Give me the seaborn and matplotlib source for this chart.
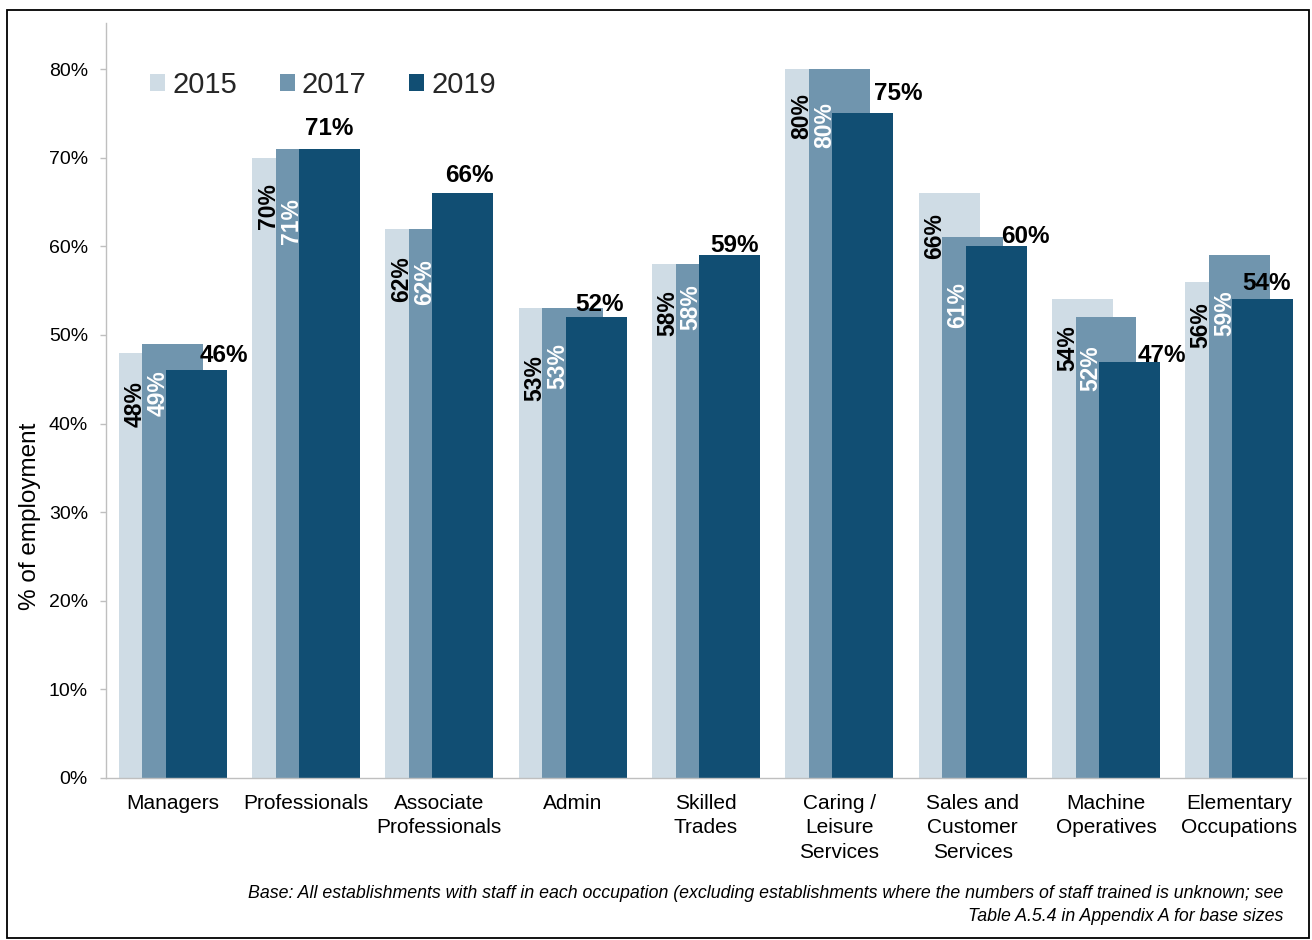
import matplotlib
matplotlib.use("Agg")
import matplotlib.pyplot as plt
import matplotlib.patches as mpatches
import numpy as np
import pandas as pd
import seaborn as sns

# ---- data ----
categories = ["Managers", "Professionals", "Associate\nProfessionals", "Admin",
              "Skilled\nTrades", "Caring /\nLeisure\nServices",
              "Sales and\nCustomer\nServices", "Machine\nOperatives",
              "Elementary\nOccupations"]
years = ["2015", "2017", "2019"]
v2015 = [48, 70, 62, 53, 58, 80, 66, 54, 56]
v2017 = [49, 71, 62, 53, 58, 80, 61, 52, 59]
v2019 = [46, 71, 66, 52, 59, 75, 60, 47, 54]
yticks = [0, 10, 20, 30, 40, 50, 60, 70, 80]
footnote = ("Base: All establishments with staff in each occupation (excluding establishments where the numbers of staff trained is unknown; see\n"
            "Table A.5.4 in Appendix A for base sizes")

# ---- style / layout ----
colors = {"2015": "#cfdce5", "2017": "#7095ae", "2019": "#114e73"}
bar_offsets = {"2015": -0.176, "2017": 0.0, "2019": 0.176}
bar_width = 0.457
PX = 72.0 / 100.0  # points per pixel
# label placement (pixels)
gap2015 = [28, 25, 28, 47, 26, 24, 20, 26, 20]
gap2017 = [26, 49, 31, 35, 20, 33, 45, 28, 35]
dx2019 = [28, 0, 7, 3, 5, 35, 29, 32, 4]
dy2019 = [8, 14, 11, 6, 3, 13, 3, 0, 9]

sns.set_theme(style="white")
plt.rcParams["font.family"] = ["Liberation Sans", "DejaVu Sans"]

fig = plt.figure(figsize=(13.12, 9.40), dpi=100)
ax = fig.add_axes([106 / 1312, 1 - 778 / 940, 1200 / 1312, 755 / 940])

values = {"2015": v2015, "2017": v2017, "2019": v2019}
idx = np.arange(len(categories))
for yr in years:
    df = pd.DataFrame({"pos": idx + bar_offsets[yr], "value": values[yr]})
    sns.barplot(data=df, x="pos", y="value", native_scale=True, orient="x",
                width=bar_width, color=colors[yr], saturation=1, errorbar=None,
                edgecolor="none", linewidth=0, ax=ax)

# value labels
for i in idx:
    ax.annotate(f"{v2015[i]}%", xy=(i - 0.285, v2015[i]), xytext=(0, -gap2015[i] * PX),
                textcoords="offset points", rotation=90, ha="center", va="top",
                fontsize=16.5, fontweight="bold", color="black", zorder=5)
    ax.annotate(f"{v2017[i]}%", xy=(i - 0.112, v2017[i]), xytext=(0, -gap2017[i] * PX),
                textcoords="offset points", rotation=90, ha="center", va="top",
                fontsize=16.5, fontweight="bold", color="white", zorder=5)
    ax.annotate(f"{v2019[i]}%", xy=(i + bar_offsets["2019"], v2019[i]),
                xytext=(dx2019[i] * PX, dy2019[i] * PX),
                textcoords="offset points", ha="center", va="baseline",
                fontsize=17.5, fontweight="bold", color="black", zorder=5)

# axes
ax.set_xlim(-0.5, len(categories) - 0.5)
ax.set_ylim(0, 85.2)
ax.set_yticks(yticks)
ax.set_yticklabels([f"{t}%" for t in yticks])
ax.set_xticks(idx)
ax.set_xticklabels(categories, linespacing=1.36)
ax.set_xticks(np.arange(len(categories) + 1) - 0.5, minor=True)
ax.tick_params(axis="x", which="major", length=0, pad=11.5, labelsize=15, colors="black")
ax.tick_params(axis="x", which="minor", length=4.5, width=1, color="#bfbfbf", direction="out")
ax.tick_params(axis="y", which="major", length=4.5, width=1, color="#bfbfbf",
               direction="out", pad=8.5, labelsize=14, labelcolor="black", left=True)
ax.set_xlabel("")
ax.set_ylabel("% of employment", fontsize=17.5, color="black")
ax.yaxis.set_label_coords(-0.054, 0.347)
for s in ["top", "right"]:
    ax.spines[s].set_visible(False)
for s in ["left", "bottom"]:
    ax.spines[s].set_color("#bfbfbf")
    ax.spines[s].set_linewidth(1)
ax.grid(False)

# legend
handles = [mpatches.Patch(facecolor=colors[y], edgecolor="none", label=y) for y in years]
leg = ax.legend(handles=handles, loc="center left", bbox_to_anchor=(150 / 1312, 1 - 85 / 940),
                bbox_transform=fig.transFigure, ncol=3, frameon=False, fontsize=21,
                handlelength=0.52, handleheight=0.52, handletextpad=0.25,
                columnspacing=1.45, borderpad=0, borderaxespad=0)

# footnote
fig.text(1283 / 1312, 1 - 885 / 940, footnote, ha="right", va="top", fontsize=12.8,
         style="italic", color="black", linespacing=1.45, multialignment="right")

# border
fig.add_artist(mpatches.Rectangle((7 / 1312, 2 / 940), 1302 / 1312, 928 / 940,
                                  transform=fig.transFigure, fill=False,
                                  edgecolor="black", linewidth=1.3))

fig.savefig("out.png", dpi=100)
